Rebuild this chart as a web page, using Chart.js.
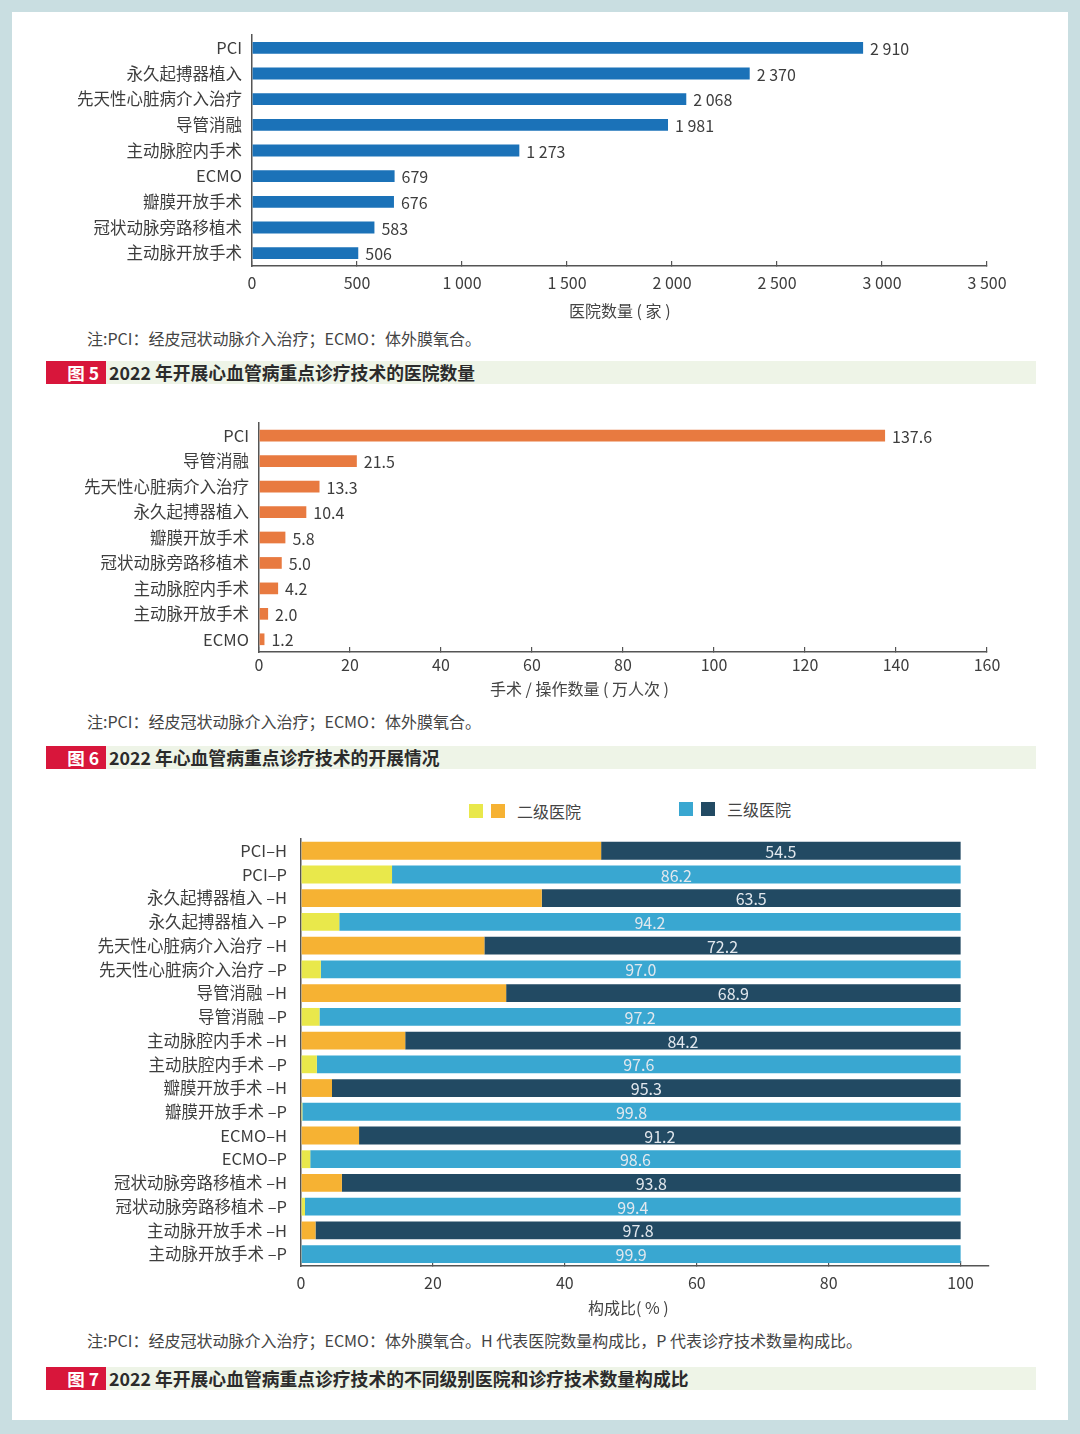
<!DOCTYPE html>
<html lang="zh-CN">
<head>
<meta charset="utf-8">
<script src="https://cdn.jsdelivr.net/npm/chart.js@4.4.1/dist/chart.umd.min.js"></script>
<style>
  html, body { margin: 0; padding: 0; }
  body { width: 1080px; height: 1434px; background: #c9dee1; position: relative; overflow: hidden;
         font-family: "Noto Sans CJK SC", "Noto Sans", sans-serif; color: #3d3d3d; }
  #panel { position: absolute; left: 12px; top: 12px; width: 1056px; height: 1408px; background: #fff; }
  canvas { position: absolute; left: 0; }
  .t { position: absolute; white-space: nowrap; line-height: 1; font-size: 16px; color: #444; }
  .bar { position: absolute; left: 46px; width: 990px; height: 23px; background: #eef4e7; }
  .bar .tag { position: absolute; left: 0; top: 0; width: 53px; height: 23px; padding-right: 7px; background: #d8163b;
              color: #fff; font-size: 17.5px; font-weight: bold; line-height: 23px; text-align: right; }
  .bar .cap { position: absolute; left: 63px; top: 0; font-size: 17.8px; font-weight: bold; line-height: 23px; color: #2b2b2b; white-space: nowrap; }
  .sq { position: absolute; width: 14px; height: 14px; }
</style>
</head>
<body>
<div id="panel"></div>

<canvas id="c1" width="1080" height="291" style="top:14px"></canvas>
<div class="t" style="left:569px;top:302px">医院数量 ( 家 )</div>
<div class="t" style="left:87px;top:330px">注:PCI：经皮冠状动脉介入治疗；ECMO：体外膜氧合。</div>
<div class="bar" style="top:361px"><div class="tag">图 5</div><div class="cap">2022 年开展心血管病重点诊疗技术的医院数量</div></div>

<canvas id="c2" width="1080" height="288" style="top:402px"></canvas>
<div class="t" style="left:490px;top:680px">手术 / 操作数量 ( 万人次 )</div>
<div class="t" style="left:87px;top:713px">注:PCI：经皮冠状动脉介入治疗；ECMO：体外膜氧合。</div>
<div class="bar" style="top:746px"><div class="tag">图 6</div><div class="cap">2022 年心血管病重点诊疗技术的开展情况</div></div>

<div class="sq" style="left:469px;top:804px;background:#e9e84b"></div>
<div class="sq" style="left:491px;top:804px;background:#f6b233"></div>
<div class="t" style="left:517px;top:803px">二级医院</div>
<div class="sq" style="left:679px;top:802px;background:#39a7d1"></div>
<div class="sq" style="left:701px;top:802px;background:#224a63"></div>
<div class="t" style="left:727px;top:801px">三级医院</div>
<canvas id="c3" width="1080" height="485" style="top:815px"></canvas>
<div class="t" style="left:588px;top:1299px">构成比( % )</div>
<div class="t" style="left:87px;top:1332px">注:PCI：经皮冠状动脉介入治疗；ECMO：体外膜氧合。H 代表医院数量构成比，P 代表诊疗技术数量构成比。</div>
<div class="bar" style="top:1367px"><div class="tag">图 7</div><div class="cap">2022 年开展心血管病重点诊疗技术的不同级别医院和诊疗技术数量构成比</div></div>

<script>
// 图 5：开展各项技术的医院数量（家）
const hospitalLabels = ["PCI", "永久起搏器植入", "先天性心脏病介入治疗", "导管消融", "主动脉腔内手术",
  "ECMO", "瓣膜开放手术", "冠状动脉旁路移植术", "主动脉开放手术"];
const hospitalCounts = [2910, 2370, 2068, 1981, 1273, 679, 676, 583, 506];

// 图 6：手术/操作数量（万人次）
const volumeLabels = ["PCI", "导管消融", "先天性心脏病介入治疗", "永久起搏器植入", "瓣膜开放手术",
  "冠状动脉旁路移植术", "主动脉腔内手术", "主动脉开放手术", "ECMO"];
const volumeValues = [137.6, 21.5, 13.3, 10.4, 5.8, 5.0, 4.2, 2.0, 1.2];

// 图 7：二级 / 三级医院构成比（%）
const shareLabels = ["PCI–H", "PCI–P", "永久起搏器植入 –H", "永久起搏器植入 –P",
  "先天性心脏病介入治疗 –H", "先天性心脏病介入治疗 –P", "导管消融 –H", "导管消融 –P",
  "主动脉腔内手术 –H", "主动肤腔内手术 –P", "瓣膜开放手术 –H", "瓣膜开放手术 –P",
  "ECMO–H", "ECMO–P", "冠状动脉旁路移植术 –H", "冠状动脉旁路移植术 –P",
  "主动脉开放手术 –H", "主动脉开放手术 –P"];
const secondLevel = [45.5, 13.8, 36.5, 5.8, 27.8, 3.0, 31.1, 2.8, 15.8, 2.4, 4.7, 0.2, 8.8, 1.4, 6.2, 0.6, 2.2, 0.1];
const thirdLevel = [54.5, 86.2, 63.5, 94.2, 72.2, 97.0, 68.9, 97.2, 84.2, 97.6, 95.3, 99.8, 91.2, 98.6, 93.8, 99.4, 97.8, 99.9];
const shareTicks = [0, 20, 40, 60, 80, 100];

const FONT = '"Noto Sans CJK SC", "Noto Sans", sans-serif';
const TEXT = "#3d3d3d";
const AXIS = "#555555";

// 千位用空格分隔，如 2 910
function spaced(v) {
  return String(v).replace(/\B(?=(\d{3})+(?!\d))/g, " ");
}

// 在柱子末端或段中央写数值
const valueLabels = {
  id: "valueLabels",
  afterDatasetsDraw(chart, args, opts) {
    const ctx = chart.ctx;
    ctx.save();
    ctx.font = "16px " + FONT;
    ctx.fillStyle = opts.color;
    ctx.textBaseline = "middle";
    chart.data.datasets.forEach((ds, di) => {
      if (di !== opts.dataset) return;
      chart.getDatasetMeta(di).data.forEach((bar, i) => {
        const txt = opts.format(ds.data[i]);
        if (opts.center) {
          ctx.textAlign = "center";
          ctx.fillText(txt, (bar.x + bar.base) / 2, bar.y + 1);
        } else {
          ctx.textAlign = "left";
          ctx.fillText(txt, bar.x + 7, bar.y + 1);
        }
      });
    });
    ctx.restore();
  }
};

function hBarOptions(o) {
  return {
    indexAxis: "y",
    responsive: false,
    animation: false,
    layout: { padding: { top: o.top, right: o.right, left: 0, bottom: 0 } },
    plugins: { legend: { display: false }, tooltip: { enabled: false }, valueLabels: o.labels },
    scales: {
      x: {
        min: 0, max: o.max, stacked: !!o.stacked,
        grid: { drawOnChartArea: false, drawTicks: true, tickLength: -5, color: AXIS, lineWidth: 1.2 },
        border: { display: true, color: AXIS, width: 1.5 },
        ticks: { stepSize: o.step, padding: o.tickPad, color: TEXT, font: { family: FONT, size: 16 },
                 maxRotation: 0, autoSkip: false, callback: (v) => spaced(v) },
        afterBuildTicks: o.fixedTicks ? (s) => { s.ticks = o.fixedTicks.map((v) => ({ value: v })); } : undefined,
        afterFit: (s) => { s.height = o.xHeight; }
      },
      y: {
        stacked: !!o.stacked,
        grid: { display: false, drawTicks: false },
        border: { display: true, color: AXIS, width: 1.5 },
        ticks: { padding: o.labelPad, color: TEXT, font: { family: FONT, size: 16.5 }, autoSkip: false },
        afterFit: (s) => { s.width = o.yWidth; }
      }
    }
  };
}

new Chart(document.getElementById("c1"), {
  type: "bar",
  data: {
    labels: hospitalLabels,
    datasets: [{ data: hospitalCounts, backgroundColor: "#1b72b8", categoryPercentage: 1, barPercentage: 0.46 }]
  },
  options: hBarOptions({ top: 21, right: 93, max: 3500, step: 500, tickPad: 12, xHeight: 39,
    yWidth: 252, labelPad: 10,
    labels: { dataset: 0, color: TEXT, format: spaced } }),
  plugins: [valueLabels]
});

new Chart(document.getElementById("c2"), {
  type: "bar",
  data: {
    labels: volumeLabels,
    datasets: [{ data: volumeValues, backgroundColor: "#e87a40", categoryPercentage: 1, barPercentage: 0.46 }]
  },
  options: hBarOptions({ top: 21, right: 93, max: 160, step: 20, tickPad: 8, xHeight: 38,
    yWidth: 259, labelPad: 10,
    labels: { dataset: 0, color: TEXT, format: (v) => v.toFixed(1) } }),
  plugins: [valueLabels]
});

const isH = shareLabels.map((l) => l.endsWith("H"));
new Chart(document.getElementById("c3"), {
  type: "bar",
  data: {
    labels: shareLabels,
    datasets: [
      { label: "二级医院", data: secondLevel, backgroundColor: isH.map((h) => h ? "#f6b233" : "#e9e84b"),
        categoryPercentage: 1, barPercentage: 0.75 },
      { label: "三级医院", data: thirdLevel, backgroundColor: isH.map((h) => h ? "#224a63" : "#39a7d1"),
        categoryPercentage: 1, barPercentage: 0.75 }
    ]
  },
  options: hBarOptions({ top: 21, right: 91, max: 104.3, fixedTicks: shareTicks, tickPad: 12, xHeight: 34,
    yWidth: 301, labelPad: 14, stacked: true,
    labels: { dataset: 1, color: "#e2e8ee", center: true, format: (v) => v.toFixed(1) } }),
  plugins: [valueLabels]
});
</script>
</body>
</html>
